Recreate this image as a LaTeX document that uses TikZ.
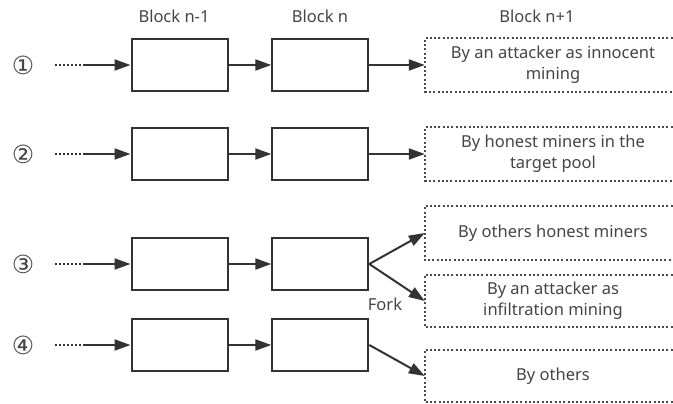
\documentclass[tikz,border=0pt]{standalone}
\usepackage{fontspec}
\setmainfont{Noto Sans}
\newfontfamily\symfont{DejaVu Sans}
\usetikzlibrary{arrows.meta,calc}
\definecolor{ink}{HTML}{333333}
\definecolor{txt}{HTML}{444444}
\definecolor{dots}{HTML}{4a4a4a}
\begin{document}
\begin{tikzpicture}[x=1pt,y=-1pt,
  font=\fontsize{16.5}{21}\selectfont,
  blk/.style={draw=ink, line width=2pt, minimum width=96pt, minimum height=52pt, inner sep=0pt},
  outcome/.style={minimum width=256pt, inner sep=0pt, text=txt, align=center},
  head/.style={text=txt},
  num/.style={text=txt, font=\symfont\fontsize{25}{25}\selectfont},
  arr/.style={draw=ink, line width=2pt, -{Triangle[length=16pt,width=11pt]}},
  lead/.style={draw=ink, line width=2pt, dash pattern=on 2pt off 2pt},
  dotbox/.style={draw=dots, line width=1.7pt, dash pattern=on 2pt off 2.3pt}]
\useasboundingbox (0,0) rectangle (673,404);
\clip (0,0) rectangle (673,404);

% column headings
\node[head] (h1) at (174,16) {Block n-1};
\node[head] (h2) at (320,16) {Block n};
\node[head] (h3) at (537,16) {Block n+1};

% chain blocks, one row per scenario
\foreach \r/\y in {1/65, 2/154, 3/264, 4/345}{
  \coordinate (n\r) at (23,\y);
  \node[blk] (a\r) at (179.5,\y) {};
  \node[blk] (b\r) at (320.3,\y) {};
  \coordinate (s\r) at (55,\y);
  \coordinate (m\r) at (83,\y);
  \draw[lead] (s\r) -- (m\r);
  \draw[arr] (m\r) -- (a\r);
  \draw[arr] (a\r) -- (b\r);
}
\node[num] (c1) at (n1) {①};
\node[num] (c2) at (n2) {②};
\node[num] (c3) at (n3) {③};
\node[num] (c4) at (n4) {④};

% candidate next blocks
\node[outcome, minimum height=53pt] (o1) at (553,65) {By an attacker as innocent\\mining};
\node[outcome, minimum height=53pt] (o2) at (553,154) {By honest miners in the\\target pool};
\node[outcome, minimum height=54pt] (o3a) at (553,233) {By others honest miners};
\node[outcome, minimum height=52pt] (o3b) at (553,301) {By an attacker as\\infiltration mining};
\node[outcome, minimum height=52pt] (o4) at (553,376) {By others};

\foreach \o in {o1,o2,o3a,o3b,o4}{
  \draw[dotbox] (\o.north east) -- (\o.north west) -- (\o.south west) -- (\o.south east);
}

% links into the next block
\draw[arr] (b1.east) -- (o1.west);
\draw[arr] (b2.east) -- (o2.west);
\draw[arr] (b3.east) -- (o3a.west);
\draw[arr] (b3.east) -- (o3b.west);
\draw[arr] (b4.east) -- (o4.west);

\node[text=txt] (fork) at (385,304) {Fork};
\end{tikzpicture}
\end{document}
